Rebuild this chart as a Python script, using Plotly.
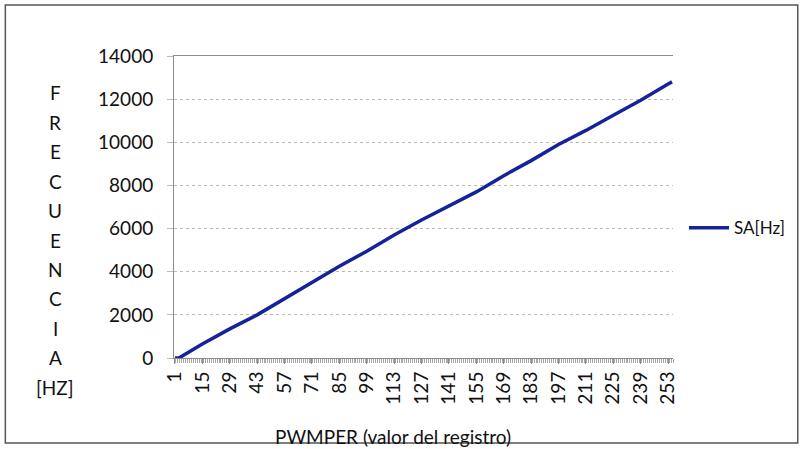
import plotly.graph_objects as go

# Data (PWMPER register value vs SA frequency)
pwmper = [1, 3, 15, 29, 43, 57, 71, 85, 99, 113, 127, 141, 155, 169, 183, 197, 211, 225, 239, 253, 255]
sa_hz = [0, 0, 650, 1350, 2000, 2750, 3500, 4250, 4950, 5700, 6400, 7050, 7700, 8450, 9150, 9900, 10550, 11250, 11950, 12700, 12800]
x_ticks = list(range(1, 256, 14))
y_ticks = [0, 2000, 4000, 6000, 8000, 10000, 12000, 14000]
y_title_letters = ["F", "R", "E", "C", "U", "E", "N", "C", "I", "A", "[HZ]"]
series_name = "SA[Hz]"
x_title = "PWMPER (valor del registro)"

W, H = 802, 449
L, R, T, B = 174, 128, 56, 91
pw, ph = W - L - R, H - T - B

FONT = "Lato"
TXT = "#111111"
grid_col = "#c4b89e"
axis_col = "#8c8c8c"

fig = go.Figure()
fig.add_trace(go.Scatter(
    x=pwmper, y=sa_hz, mode="lines", name=series_name,
    line=dict(color="#14239a", width=3.5),
))

fig.update_layout(
    width=W, height=H,
    margin=dict(l=L, r=R, t=T, b=B),
    paper_bgcolor="white", plot_bgcolor="white",
    font=dict(family=FONT, color=TXT, size=19),
    showlegend=True,
    legend=dict(x=1.02, xanchor="left", y=0.43, yanchor="middle",
                font=dict(size=17, family=FONT, color=TXT), bgcolor="rgba(0,0,0,0)",
                itemwidth=40),
    xaxis=dict(
        range=[0.5, 255.5], tickmode="array", tickvals=x_ticks,
        ticktext=[str(v) for v in x_ticks], tickangle=-90,
        tickfont=dict(size=19, family=FONT, color=TXT),
        showgrid=False, zeroline=False, automargin=False,
        showline=True, linecolor=axis_col, linewidth=1, mirror=True,
        ticks="outside", ticklen=5, tickcolor=axis_col,
        minor=dict(ticks="outside", dtick=1, tick0=0.5, ticklen=4, tickcolor="#a8a8a8"),
    ),
    yaxis=dict(
        range=[0, 14000], tickmode="array", tickvals=y_ticks,
        ticktext=[str(v) for v in y_ticks],
        tickfont=dict(size=19, family=FONT, color=TXT),
        showgrid=True, gridcolor=grid_col, gridwidth=1, griddash="dot",
        zeroline=False, automargin=False,
        showline=True, linecolor=axis_col, linewidth=1,
        ticks="outside", ticklen=6, tickcolor=grid_col,
        ticklabelstandoff=10,
    ),
)

# x-axis title
fig.add_annotation(
    text=x_title, xref="paper", yref="paper",
    x=(393 - L) / pw, y=(H - B - 436) / ph,
    showarrow=False, xanchor="center", yanchor="middle",
    font=dict(size=19, family=FONT, color=TXT),
)

# vertical stacked y-axis title
y0_px, step_px, xc_px = 93, 29.4, 55
for i, ch in enumerate(y_title_letters):
    ypx = y0_px + i * step_px
    fig.add_annotation(
        text=ch, xref="paper", yref="paper",
        x=(xc_px - L) / pw, y=(H - B - ypx) / ph,
        showarrow=False, xanchor="center", yanchor="middle",
        font=dict(size=19, family=FONT, color=TXT),
    )

# outer chart frame
fig.add_shape(type="rect", xref="paper", yref="paper",
              x0=(5 - L) / pw, x1=(799 - L) / pw,
              y0=(H - B - 443) / ph, y1=(H - B - 5) / ph,
              line=dict(color="#555555", width=1.5), layer="below")

fig.write_html("out.html")
